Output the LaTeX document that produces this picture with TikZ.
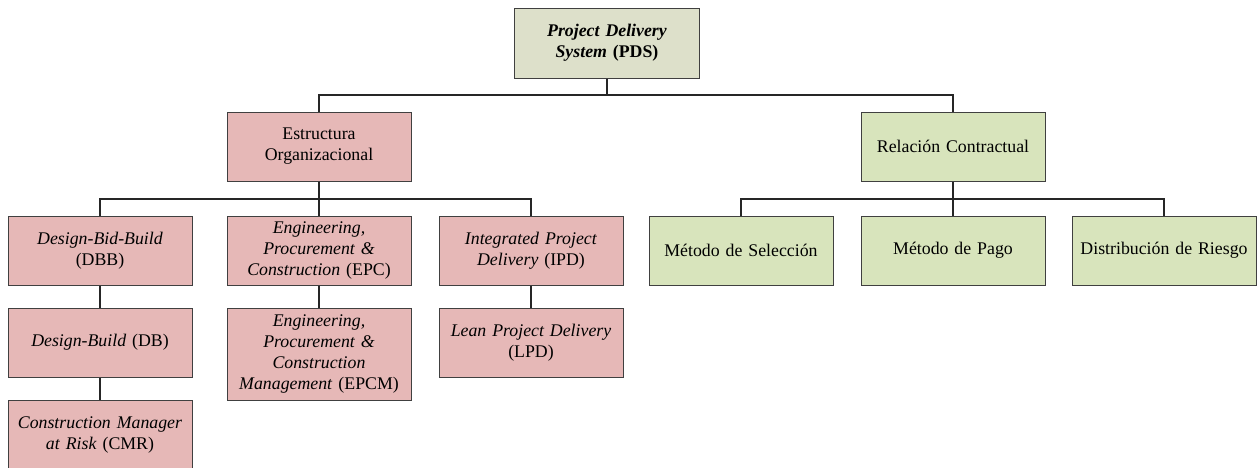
\documentclass[tikz,border=0pt]{standalone}
\usepackage{fontspec}
\setmainfont{Liberation Serif}
\definecolor{boxline}{HTML}{404040}
\definecolor{rootfill}{HTML}{DDE0CA}
\definecolor{orgfill}{HTML}{E6B8B7}
\definecolor{confill}{HTML}{D8E4BC}
\begin{document}
\begin{tikzpicture}[x=1pt,y=-1pt,
  box/.style={draw=boxline, line width=1pt, inner sep=0pt, align=center,
    minimum width=184pt, minimum height=69pt, text width=180pt,
    font=\fontsize{17.8pt}{21pt}\selectfont},
  orgbox/.style={box, fill=orgfill},
  conbox/.style={box, fill=confill},
  rootbox/.style={box, fill=rootfill, minimum width=185pt, minimum height=70pt},
  link/.style={draw=black!85, line width=1.5pt}]
\useasboundingbox (0,0) rectangle (1257,467);
\clip (0,0) rectangle (1257,467);

% root
\node[rootbox] (pds) at (607,43) {\textbf{\textit{Project Delivery}}\\\textbf{\textit{System} (PDS)}};

% second level
\node[orgbox] (org) at (319,146.5) {Estructura\\Organizacional};
\node[conbox] (rel) at (953,146.5) {Relación Contractual};

% third level
\node[orgbox] (dbb)  at (100,250.5)   {\textit{Design-Bid-Build}\\(DBB)};
\node[orgbox] (epc)  at (319,250.5)   {\textit{Engineering,}\\\textit{Procurement \&}\\\textit{Construction} (EPC)};
\node[orgbox] (ipd)  at (531,250.5)   {\textit{Integrated Project}\\\textit{Delivery} (IPD)};
\node[conbox] (msel) at (741,250.5)   {Método de Selección};
\node[conbox] (mpag) at (953,250.5)   {Método de Pago};
\node[conbox] (driz) at (1164,250.5)  {Distribución de Riesgo};

% fourth level
\node[orgbox] (db)   at (100,342.5)   {\textit{Design-Build} (DB)};
\node[orgbox, minimum height=92pt] (epcm) at (319,354) {\textit{Engineering,}\\\textit{Procurement \&}\\\textit{Construction}\\\textit{Management} (EPCM)};
\node[orgbox] (lpd)  at (531,342.5)   {\textit{Lean Project Delivery}\\(LPD)};

% fifth level
\node[orgbox] (cmr)  at (100,434.5)   {\textit{Construction Manager}\\\textit{at Risk} (CMR)};

% tree connectors
\coordinate (busA) at (0,95);
\coordinate (busB) at (0,199);
\draw[link] (pds.south) -- (pds.south |- busA);
\draw[link] (org.north) |- (rel.north |- busA) -- (rel.north);

\draw[link] (org.south) -- (org.south |- busB);
\draw[link] (dbb.north) |- (ipd.north |- busB) -- (ipd.north);
\draw[link] (epc.north) -- (epc.north |- busB);

\draw[link] (rel.south) -- (rel.south |- busB);
\draw[link] (msel.north) |- (driz.north |- busB) -- (driz.north);
\draw[link] (mpag.north) -- (mpag.north |- busB);

\draw[link] (dbb.south) -- (db.north);
\draw[link] (db.south) -- (cmr.north);
\draw[link] (epc.south) -- (epcm.north);
\draw[link] (ipd.south) -- (lpd.north);
\end{tikzpicture}
\end{document}
